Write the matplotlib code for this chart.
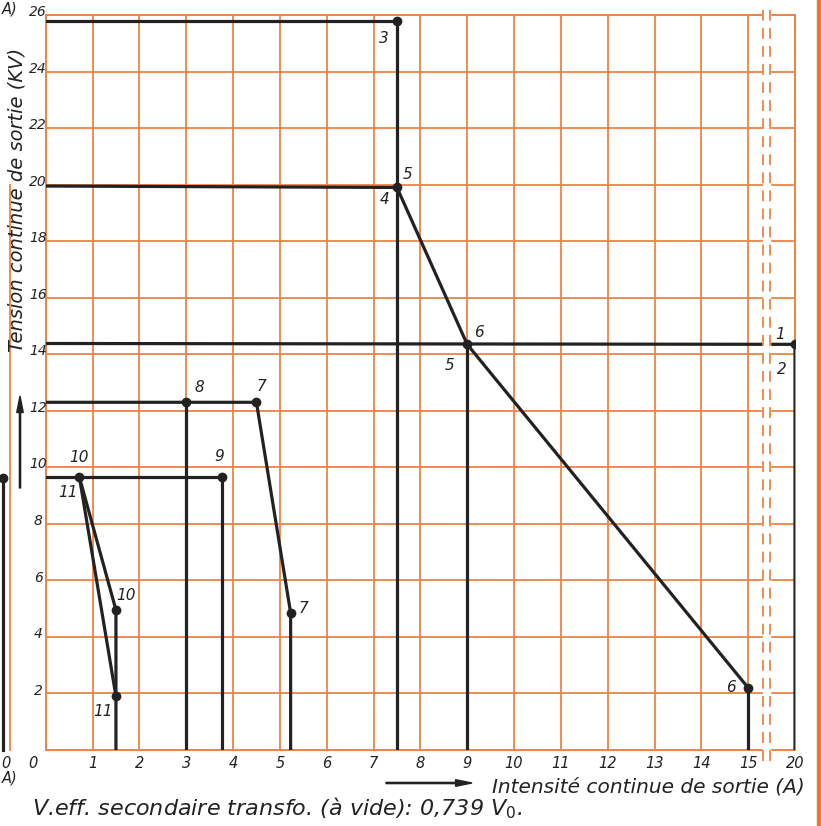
import matplotlib
matplotlib.use("Agg")
import matplotlib.pyplot as plt
from matplotlib.lines import Line2D
from matplotlib.patches import Rectangle, FancyArrow

# valeurs (I en A, U en kV)
courbe_3_i = [0, 7.5, 7.5]
courbe_3_u = [25.8, 25.8, 0]
courbe_4_i = [0, 7.5]
courbe_4_u = [19.95, 19.9]
courbe_1_i = [0, 20, 20]
courbe_1_u = [14.38, 14.35, 0]
regul_i = [7.5, 9, 15]
regul_u = [19.9, 14.35, 2.2]
vert_9_i = [9, 9]
vert_9_u = [14.35, 0]
vert_15_i = [15, 15]
vert_15_u = [2.2, 0]
courbe_7_i = [0, 4.5, 5.23, 5.23]
courbe_7_u = [12.3, 12.3, 4.85, 0]
vert_8_i = [3, 3]
vert_8_u = [12.3, 0]
courbe_9_i = [0, 3.77, 3.77]
courbe_9_u = [9.65, 9.65, 0]
courbe_10_i = [0.72, 1.5, 1.5]
courbe_10_u = [9.65, 4.95, 0]
courbe_11_i = [0.72, 1.5]
courbe_11_u = [9.65, 1.9]

points_i = [7.5, 7.5, 9, 20, 15, 3, 4.5, 5.23, 3.77, 0.72, 1.5, 1.5]
points_u = [25.8, 19.9, 14.35, 14.35, 2.2, 12.3, 12.3, 4.85, 9.65, 9.65, 4.95, 1.9]

# (texte, I, U, decalage en pixels)
etiquettes = [
    ("3", 7.5, 25.8, (-13, -18)),
    ("5", 7.5, 19.9, (11, 13)),
    ("4", 7.5, 19.9, (-12, -12)),
    ("6", 9, 14.35, (12, 12)),
    ("5", 9, 14.35, (-18, -21)),
    ("1", 20, 14.35, (-15, 10)),
    ("2", 20, 14.35, (-13, -25)),
    ("8", 3, 12.3, (13, 15)),
    ("7", 4.5, 12.3, (5, 16)),
    ("7", 5.23, 4.85, (13, 4)),
    ("9", 3.77, 9.65, (-3, 21)),
    ("10", 0.72, 9.65, (0, 20)),
    ("11", 0.72, 9.65, (-11, -15)),
    ("10", 1.5, 4.95, (10, 15)),
    ("11", 1.5, 1.9, (-13, -15)),
    ("6", 15, 2.2, (-17, 0)),
]

x_ticks = [1, 2, 3, 4, 5, 6, 7, 8, 9, 10, 11, 12, 13, 14, 15, 20]
y_ticks = [2, 4, 6, 8, 10, 12, 14, 16, 18, 20, 22, 24, 26]

ORANGE = "#EE8347"
NOIR = "#222222"
COUPURE = (15.32, 15.47)


def xpos(v):
    # echelle coupee apres 15 A : 20 A tombe a la position 16
    if isinstance(v, (list, tuple)):
        return [xpos(a) for a in v]
    return v if v <= 15 else 15 + (v - 15) / 5.0


fig = plt.figure(figsize=(8.21, 8.26), dpi=100)
ax = fig.add_axes([45.7 / 821, 76 / 826, (795 - 45.7) / 821, 735 / 826])
ax.set_xlim(0, 16)
ax.set_ylim(0, 26)
for s in ax.spines.values():
    s.set_color(ORANGE)
    s.set_linewidth(1.4)
ax.tick_params(length=0)

# quadrillage orange
for v in range(1, 16):
    ax.plot([v, v], [0, 26], color=ORANGE, lw=1.3, zorder=1)
for u in y_ticks:
    ax.plot([0, COUPURE[0]], [u, u], color=ORANGE, lw=1.3, zorder=1)
    ax.plot([COUPURE[1], 16], [u, u], color=ORANGE, lw=1.3, zorder=1)

fond = dict(color=NOIR, lw=2.3, zorder=3, solid_capstyle="round")
ax.plot(xpos(courbe_3_i), courbe_3_u, **fond)
ax.plot(xpos(courbe_4_i), courbe_4_u, **fond)
ax.plot(xpos(courbe_1_i), courbe_1_u, **fond)
ax.plot(xpos(regul_i), regul_u, **fond)
ax.plot(xpos(vert_9_i), vert_9_u, **fond)
ax.plot(xpos(vert_15_i), vert_15_u, **fond)
ax.plot(xpos(courbe_7_i), courbe_7_u, **fond)
ax.plot(xpos(vert_8_i), vert_8_u, **fond)
ax.plot(xpos(courbe_9_i), courbe_9_u, **fond)
ax.plot(xpos(courbe_10_i), courbe_10_u, **fond)
ax.plot(xpos(courbe_11_i), courbe_11_u, **fond)
ax.plot(xpos(points_i), points_u, "o", color=NOIR, ms=6, zorder=4)

# coupure de l'axe
ax.add_patch(Rectangle((COUPURE[0], -0.5), COUPURE[1] - COUPURE[0], 27,
                       color="white", zorder=5, clip_on=False))
for c in COUPURE:
    ax.plot([c, c], [-0.4, 26.4], color=ORANGE, lw=1.3, ls=(0, (6, 4)),
            zorder=6, clip_on=False)

police = dict(family="DejaVu Sans", style="italic", color=NOIR)
for txt, i, u, off in etiquettes:
    ax.annotate(txt, (xpos(i), u), xytext=off, textcoords="offset pixels",
                ha="center", va="center", fontsize=11, **police)

ax.set_xticks([])
ax.set_yticks([])
for v in x_ticks:
    ax.text(xpos(v), -0.48, str(v), ha="center", va="center", fontsize=10.5, **police)
ax.text(-0.27, -0.48, "0", ha="center", va="center", fontsize=10.5, **police)
for u in y_ticks:
    ax.text(-0.16, u + 0.1, str(u), ha="center", va="center", fontsize=10, **police)

fig.text(17 / 821, 1 - 200 / 826, "Tension continue de sortie (KV)", rotation=90,
         ha="center", va="center", fontsize=14, **police)
fig.add_artist(FancyArrow(20 / 821, 1 - 488 / 826, 0, 92 / 826, width=0.0015,
                          head_width=0.008, head_length=0.02,
                          length_includes_head=True, color=NOIR))
fig.text(648 / 821, 1 - 787 / 826, "Intensité continue de sortie (A)",
         ha="center", va="center", fontsize=14.5, **police)
fig.add_artist(FancyArrow(386 / 821, 1 - 783 / 826, 86 / 821, 0, width=0.0015,
                          head_width=0.008, head_length=0.02,
                          length_includes_head=True, color=NOIR))
fig.text(32 / 821, 1 - 808 / 826, "V.eff. secondaire transfo. (à vide): 0,739 V$_0$.",
         ha="left", va="center", fontsize=16, **police)

# bords de page voisins
fig.add_artist(Rectangle((817 / 821, 0), 4 / 821, 1, color="#E8783A",
                         transform=fig.transFigure))
fig.add_artist(Line2D([10 / 821, 10 / 821], [1 - 185 / 826, 1 - 750 / 826],
                      color=ORANGE, lw=1.3))
fig.add_artist(Line2D([3 / 821, 3 / 821], [1 - 478 / 826, 1 - 750 / 826],
                      color=NOIR, lw=2.3))
fig.add_artist(Line2D([3 / 821], [1 - 478 / 826], marker="o", color=NOIR, ms=6))
fig.text(6 / 821, 1 - 763 / 826, "0", ha="center", va="center", fontsize=10.5, **police)
fig.text(10 / 821, 1 - 778 / 826, "A)", ha="center", va="center", fontsize=10.5, **police)
fig.text(10 / 821, 1 - 9 / 826, "A)", ha="center", va="center", fontsize=10.5, **police)

fig.savefig("out.png", dpi=100, facecolor="white")
